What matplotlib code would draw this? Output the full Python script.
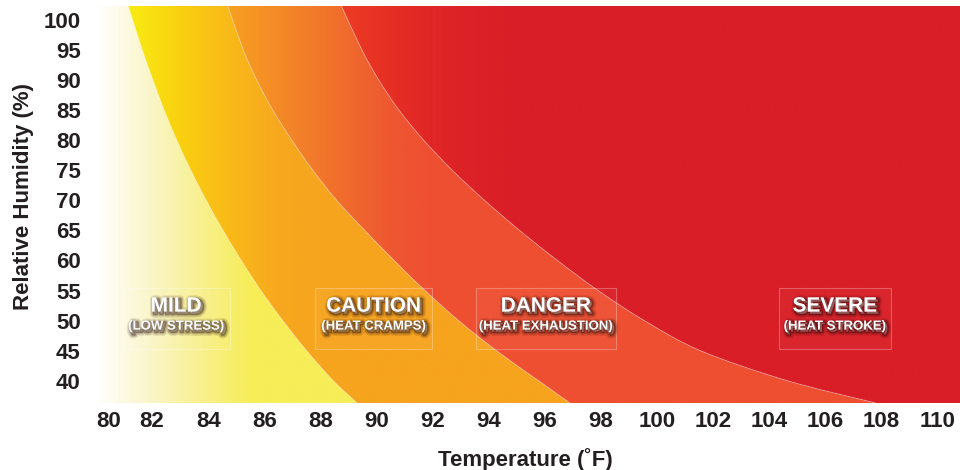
import matplotlib
matplotlib.use("Agg")
import matplotlib.pyplot as plt
import matplotlib.patheffects as pe
from matplotlib import font_manager as fm
from matplotlib.patches import PathPatch, Rectangle
from matplotlib.path import Path
from matplotlib.colors import to_rgb
import numpy as np

# pick a condensed bold face if we have one
names = {f.name for f in fm.fontManager.ttflist}
FONT = 'Liberation Sans Narrow' if 'Liberation Sans Narrow' in names else 'Liberation Sans'
plt.rcParams['font.family'] = [FONT, 'DejaVu Sans']
plt.rcParams['font.weight'] = 'bold'

# axis ranges
t_min, t_max = 80, 110.8
rh_min, rh_max = 36.3, 102.3

x_ticks = [80, 82, 84, 86, 88, 90, 92, 94, 96, 98, 100, 102, 104, 106, 108, 110]
y_ticks = [40, 45, 50, 55, 60, 65, 70, 75, 80, 85, 90, 95, 100]

# zone boundaries (relative humidity -> temperature)
bound_rh = [102.3, 95, 90, 85, 80, 75, 70, 65, 60, 55, 50, 45, 40, 36.3]
mild_t = [81.15, 81.65, 82.03, 82.43, 82.88, 83.38, 83.93, 84.53, 85.18, 85.88, 86.66, 87.51, 88.46, 89.31]
caution_t = [84.7, 85.25, 85.73, 86.3, 86.98, 87.73, 88.58, 89.58, 90.63, 91.73, 92.93, 94.28, 95.78, 96.9]
danger_t = [88.75, 89.48, 90.08, 90.8, 91.68, 92.7, 93.85, 95.1, 96.45, 97.9, 99.55, 101.55, 104.65, 107.8]

# zone labels
zone_names = ['MILD', 'CAUTION', 'DANGER', 'SEVERE']
zone_notes = ['(LOW STRESS)', '(HEAT CRAMPS)', '(HEAT EXHAUSTION)', '(HEAT STROKE)']
box_left = [80.93, 87.81, 93.54, 104.34]
box_right = [84.78, 91.98, 98.53, 108.33]
box_bottom, box_top = 45.3, 55.5

# horizontal colour ramps for each zone (temperature, colour)
ramp_mild = [(80, '#ffffff'), (82, '#faf5c6'), (83.8, '#f8f08c'), (85.5, '#f6ed58'), (111, '#f6ed55')]
ramp_caution = [(81.1, '#f8ec12'), (83, '#f9d010'), (84.5, '#f9bc18'), (86.5, '#f7a81e'), (89, '#f6a31e'), (111, '#f6a31e')]
ramp_danger = [(84.7, '#f7a020'), (86.5, '#f48a27'), (88.5, '#f1702c'), (90.5, '#ee5731'), (92, '#ee4f31'), (111, '#ee4f31')]
ramp_severe = [(88.8, '#ec3c24'), (91, '#e42b25'), (93, '#dd2227'), (95, '#d91e27'), (111, '#d91e27')]

INK = '#231f20'


def ramp_image(stops):
	tt = np.linspace(t_min, t_max, 800)
	xs = [s[0] for s in stops]
	cols = np.array([to_rgb(s[1]) for s in stops])
	img = np.zeros((1, len(tt), 3))
	for c in range(3):
		img[0, :, c] = np.interp(tt, xs, cols[:, c])
	return img


def curve_segments(pts):
	# bezier pieces through the read points (catmull-rom style handles)
	p = np.array(pts, dtype=float)
	ext = np.vstack([p[0], p, p[-1]])
	verts, codes = [], []
	for i in range(1, len(ext) - 2):
		c1 = ext[i] + (ext[i + 1] - ext[i - 1]) / 6
		c2 = ext[i + 1] - (ext[i + 2] - ext[i]) / 6
		verts += [tuple(c1), tuple(c2), tuple(ext[i + 1])]
		codes += [Path.CURVE4] * 3
	return verts, codes


def region_path(pieces):
	# pieces: list of ('line', [pts]) or ('curve', [pts])
	verts, codes = [], []
	for kind, pts in pieces:
		verts.append(pts[0])
		codes.append(Path.LINETO if verts[:-1] else Path.MOVETO)
		if kind == 'curve':
			v, c = curve_segments(pts)
			verts += v
			codes += c
		else:
			for q in pts[1:]:
				verts.append(q)
				codes.append(Path.LINETO)
	verts.append(verts[0])
	codes.append(Path.CLOSEPOLY)
	return Path(verts, codes)


fig = plt.figure(figsize=(9.6, 4.7), dpi=100)
ax = fig.add_axes([0.1, 0.14255, 0.9, 0.84468])
ax.set_xlim(t_min, t_max)
ax.set_ylim(rh_min, rh_max)

b1 = list(zip(mild_t, bound_rh))
b2 = list(zip(caution_t, bound_rh))
b3 = list(zip(danger_t, bound_rh))

regions = [
	([('line', [(t_min, rh_max)]), ('curve', b1), ('line', [(t_min, rh_min)])], ramp_mild),
	([('curve', b1), ('curve', b2[::-1])], ramp_caution),
	([('curve', b2), ('line', [(t_max, rh_min)]), ('curve', b3[::-1])], ramp_danger),
	([('curve', b3), ('line', [(t_max, rh_min), (t_max, rh_max)])], ramp_severe),
]

for pieces, ramp in regions:
	patch = PathPatch(region_path(pieces), facecolor='none', edgecolor='none')
	ax.add_patch(patch)
	im = ax.imshow(ramp_image(ramp), extent=[t_min, t_max, rh_min, rh_max],
		aspect='auto', interpolation='bilinear', origin='lower', zorder=1)
	im.set_clip_path(patch)

# faint light seams between the zones
for b in [b1, b2, b3]:
	v, c = curve_segments(b)
	seam = Path([b[0]] + v, [Path.MOVETO] + c)
	ax.add_patch(PathPatch(seam, facecolor='none', edgecolor='white', alpha=0.3, lw=0.7, zorder=2))

# soft dark drop shadow behind the white zone labels
shadow = [pe.Stroke(offset=(1.5, -1.5), linewidth=6, foreground='#200400', alpha=0.10),
	pe.Stroke(offset=(1.5, -1.5), linewidth=4, foreground='#200400', alpha=0.18),
	pe.Stroke(offset=(1.5, -1.5), linewidth=2, foreground='#200400', alpha=0.35),
	pe.Normal()]

for i in range(len(zone_names)):
	ax.add_patch(Rectangle((box_left[i], box_bottom), box_right[i] - box_left[i], box_top - box_bottom,
		facecolor=(1, 1, 1, 0.03), edgecolor=(1, 1, 1, 0.28), lw=0.8, zorder=3))
	cx = (box_left[i] + box_right[i]) / 2
	ax.text(cx, 52.4, zone_names[i], ha='center', va='center', color='white',
		fontsize=15, fontweight='bold', path_effects=shadow, zorder=4)
	ax.text(cx, 49.0, zone_notes[i], ha='center', va='center', color='white',
		fontsize=9.5, fontweight='bold', path_effects=shadow, zorder=4)

ax.set_xticks(x_ticks)
ax.set_yticks(y_ticks)
ax.tick_params(length=0, labelsize=16, labelcolor=INK)
ax.tick_params(axis='x', pad=6)
ax.tick_params(axis='y', pad=11)
for lab in ax.get_xticklabels() + ax.get_yticklabels():
	lab.set_fontweight('bold')
ax.get_xticklabels()[0].set_ha('left')

for s in ax.spines.values():
	s.set_visible(False)

ax.set_xlabel('Temperature (˚F)', fontsize=16, fontweight='bold', color=INK)
ax.set_ylabel('Relative Humidity (%)', fontsize=16, fontweight='bold', color=INK)
ax.xaxis.set_label_coords(0.4965, -0.113)
ax.yaxis.set_label_coords(-0.072, 0.52)

fig.savefig('out.png', dpi=100)
